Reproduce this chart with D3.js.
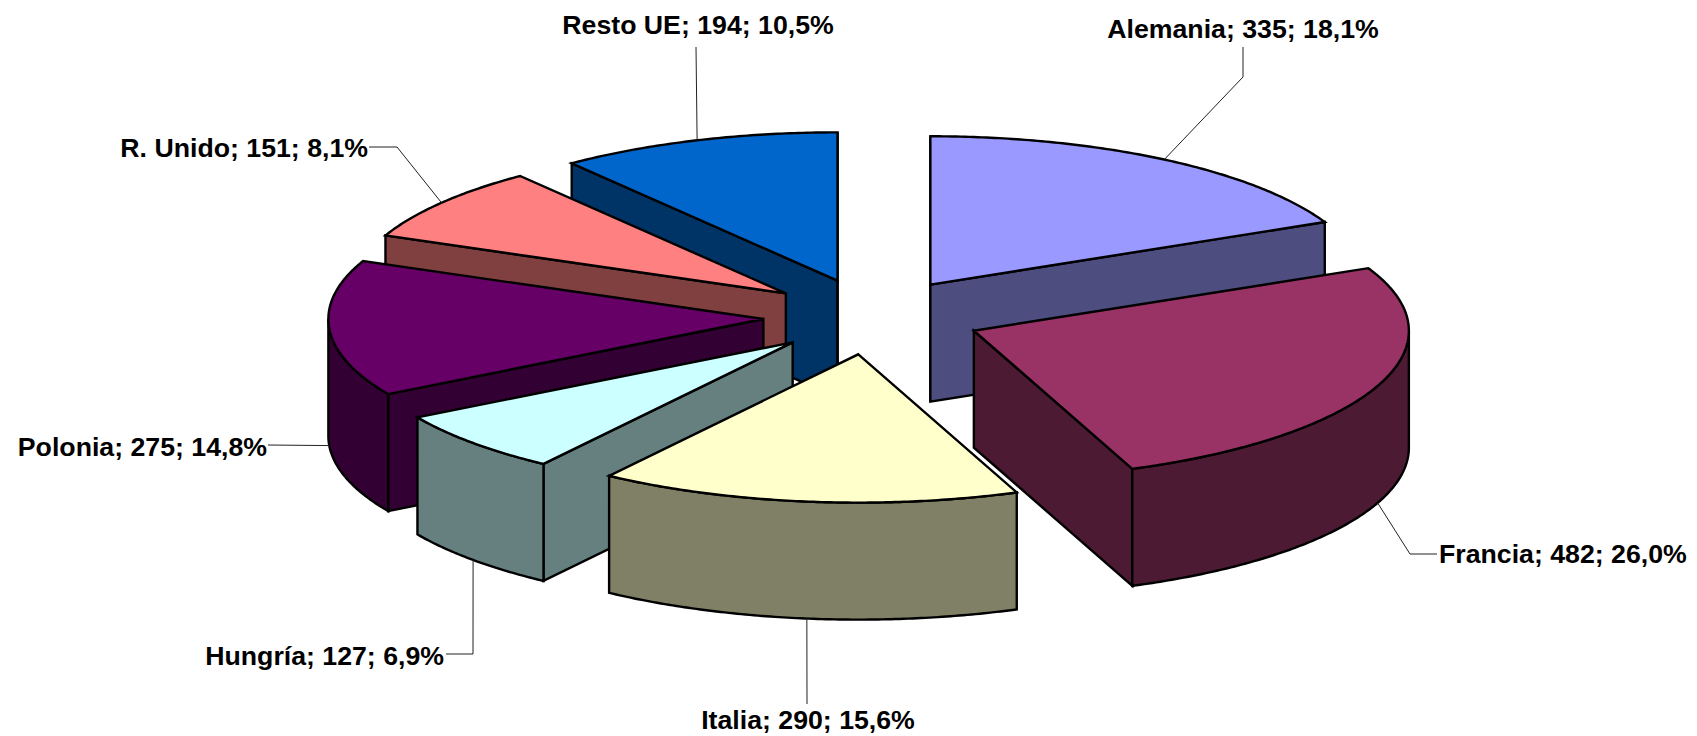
<!DOCTYPE html>
<html>
<head>
<meta charset="utf-8">
<script src="https://cdn.jsdelivr.net/npm/d3@7/dist/d3.min.js"></script>
<style>html,body{margin:0;padding:0;background:#fff}svg{display:block}</style>
</head>
<body>
<script>
const categories = ["Alemania","Francia","Italia","Hungría","Polonia","R. Unido","Resto UE"];
const values = [335,482,290,127,275,151,194];
const percents = ["18,1%","26,0%","15,6%","6,9%","14,8%","8,1%","10,5%"];
const topColors = ["#9999FF","#993366","#FFFFCC","#CCFFFF","#660066","#FF8080","#0066CC"];
const wallColors = ["#4D4D80","#4D1A33","#808066","#668080","#330033","#804040","#003366"];
const paintOrder = [0,6,5,4,1,3,2];

// layout of the data labels: text anchor point and leader elbow
const labelX = [1243,1439,808,444,267,368,698];
const labelY = [28,553,719,655,446,147,24];
const labelAnchor = ["middle","start","middle","end","end","end","middle"];
const elbows = [[1243,77],[1410,554],null,[473,654],null,[397,147],null];
const leaderEnds = [[1243,47],[1437,554],[807,704],[446,654],[268,445],[369,147],[696,47]];
// small horizontal correction of each slice (stands in for the perspective of the 3D view)
const nudgeX = [-0.5,-0.5,0.5,3.5,3.5,3,2.5];

const W = 1697, H = 736;
const cx = 871, cy = 316.6, rx = 435, ry = 148.3, depth = 117, explode = 0.256;

const sx = d3.scaleLinear().domain([-1,1]).range([-rx,rx]);
const sy = d3.scaleLinear().domain([-1,1]).range([-ry,ry]);

const arcs = d3.pie().sort(null).value(d=>d)(values);
const svg = d3.select("body").append("svg").attr("width",W).attr("height",H);
const line = d3.line();

function rim(a, ox, oy, dz=0){ return [ox+sx(Math.sin(a)), oy+sy(-Math.cos(a))+dz]; }
function arcPts(a0,a1,ox,oy,dz=0){
  const n = Math.max(2,Math.ceil((a1-a0)/0.01));
  return d3.range(n+1).map(i=>rim(a0+(a1-a0)*i/n,ox,oy,dz));
}
function apex(d,i){
  const m=(d.startAngle+d.endAngle)/2;
  return [cx+nudgeX[i]+explode*sx(Math.sin(m)), cy+explode*sy(-Math.cos(m))];
}

paintOrder.forEach(i=>{
  const d=arcs[i], [ox,oy]=apex(d,i), a0=d.startAngle, a1=d.endAngle;
  const g=svg.append("g").attr("stroke","#000").attr("stroke-width",2.4).attr("stroke-linejoin","miter");
  const wall=(pts)=>g.append("path").attr("d",line(pts)+"Z").attr("fill",wallColors[i]);
  const radial=(a)=>{const p=rim(a,ox,oy),q=rim(a,ox,oy,depth);wall([[ox,oy],p,q,[ox,oy+depth]]);};
  if(Math.sin(a0)<=1e-9) radial(a0);
  if(Math.sin(a1)>=-1e-9) radial(a1);
  const s=Math.max(a0,Math.PI/2), e=Math.min(a1,3*Math.PI/2);
  if(e>s){
    wall(arcPts(s,e,ox,oy).concat(arcPts(s,e,ox,oy,depth).reverse()));
  }
  g.append("path").attr("d",line([[ox,oy],...arcPts(a0,a1,ox,oy)])+"Z").attr("fill",topColors[i]);
});

arcs.forEach((d,i)=>{
  const [ox,oy]=apex(d,i), m=(d.startAngle+d.endAngle)/2;
  const start=rim(m,ox,oy,Math.cos(m)<0?depth:0);
  const pts=[start]; if(elbows[i]) pts.push(elbows[i]); pts.push(leaderEnds[i]);
  svg.append("path").attr("d",line(pts)).attr("fill","none").attr("stroke","#222").attr("stroke-width",1);
  svg.append("text").attr("x",labelX[i]).attr("y",labelY[i]).attr("dy","0.36em")
    .attr("text-anchor",labelAnchor[i])
    .attr("font-family","'Liberation Sans',Arial,sans-serif").attr("font-weight","700")
    .attr("font-size",26.7).attr("fill","#000")
    .text(`${categories[i]}; ${values[i]}; ${percents[i]}`);
});
</script>
</body>
</html>
